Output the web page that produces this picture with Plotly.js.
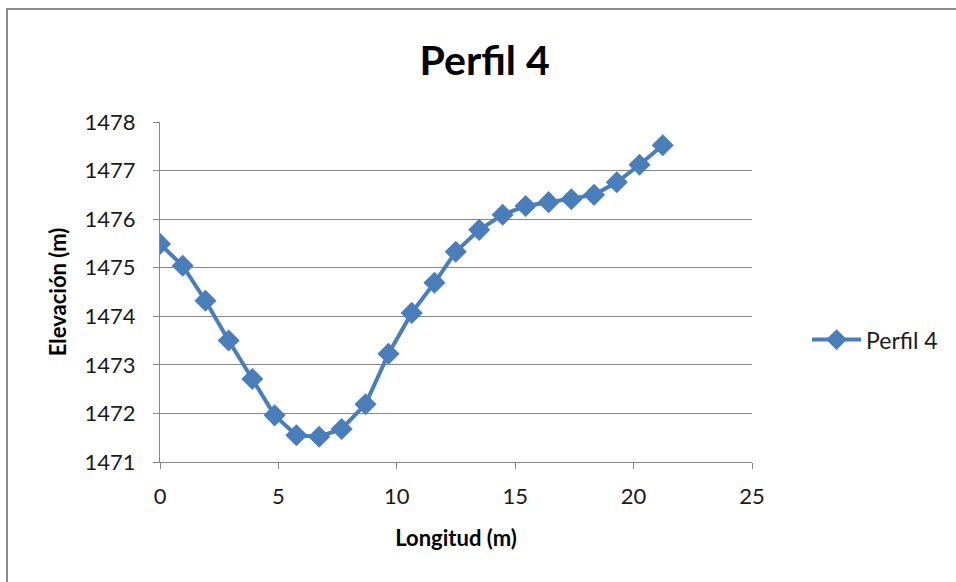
<!DOCTYPE html>
<html>
<head>
<meta charset="utf-8">
<script src="https://cdn.plot.ly/plotly-3.0.1.min.js"></script>
<style>
  html, body { margin: 0; padding: 0; width: 956px; height: 582px; overflow: hidden; background: #ffffff; }
  #frame { position: absolute; left: 6px; top: 8px; width: 1000px; height: 640px; border: 2px solid #8a8a8a; box-sizing: border-box; }
  #chart { position: absolute; left: 0; top: 0; width: 956px; height: 582px; }
</style>
</head>
<body>
<div id="frame"></div>
<div id="chart"></div>
<script>
// Perfil 4: distancia horizontal (m) y elevación (m) de cada punto del levantamiento
const longitud = [0, 0.96, 1.92, 2.90, 3.90, 4.84, 5.76, 6.72, 7.67, 8.68, 9.65, 10.63, 11.59, 12.49,
                  13.48, 14.47, 15.44, 16.41, 17.37, 18.33, 19.29, 20.25, 21.23];
const elevacion = [1475.49, 1475.04, 1474.32, 1473.50, 1472.71, 1471.96, 1471.55, 1471.52, 1471.68, 1472.19, 1473.23, 1474.07, 1474.69, 1475.33,
                   1475.78, 1476.09, 1476.27, 1476.35, 1476.41, 1476.50, 1476.76, 1477.12, 1477.52];
const serieNombre = 'Perfil 4';
const xTicks = [0, 5, 10, 15, 20, 25];
const yTicks = [1471, 1472, 1473, 1474, 1475, 1476, 1477, 1478];

const azul = '#4a7ebb';
const gris = '#868686';
const fuente = 'Lato, "Open Sans", sans-serif';

const trace = {
  x: longitud,
  y: elevacion,
  name: serieNombre,
  type: 'scatter',
  mode: 'lines+markers',
  line: { color: azul, width: 4 },
  marker: { symbol: 'diamond', size: 17, color: azul },
  showlegend: true
};

const layout = {
  width: 956,
  height: 582,
  margin: { l: 160, r: 204, t: 122, b: 120 },
  paper_bgcolor: 'rgba(0,0,0,0)',
  plot_bgcolor: 'rgba(0,0,0,0)',
  font: { family: fuente, color: '#1a1a1a' },
  title: {
    text: '<b>Perfil 4</b>',
    font: { family: fuente, size: 41, color: '#000000' },
    x: 0.507, xanchor: 'center',
    y: 0.895, yanchor: 'middle'
  },
  xaxis: {
    range: [0, 25],
    tickvals: xTicks,
    ticktext: xTicks.map(String),
    showgrid: false,
    zeroline: false,
    showline: true, linecolor: gris, linewidth: 1,
    ticks: 'outside', ticklen: 6, tickcolor: gris,
    ticklabelstandoff: 9,
    tickfont: { family: fuente, size: 22, color: '#1a1a1a' },
    title: { text: '<b>Longitud (m)</b>', font: { family: fuente, size: 22, color: '#000000' }, standoff: 22 }
  },
  yaxis: {
    range: [1471, 1478],
    tickvals: yTicks,
    ticktext: yTicks.map(String),
    showgrid: true, gridcolor: gris, gridwidth: 1,
    zeroline: false,
    showline: true, linecolor: gris, linewidth: 1,
    ticks: 'outside', ticklen: 6, tickcolor: gris,
    ticklabelstandoff: 13,
    tickfont: { family: fuente, size: 22, color: '#1a1a1a' },
    title: { text: '<b>Elevación (m)</b>', font: { family: fuente, size: 22, color: '#000000' }, standoff: 11 }
  },
  legend: {
    x: 1.093, xanchor: 'left',
    y: 0.36, yanchor: 'middle',
    itemwidth: 49,
    font: { family: fuente, size: 23, color: '#1a1a1a' },
    bgcolor: 'rgba(0,0,0,0)'
  },
  showlegend: true
};

Plotly.newPlot('chart', [trace], layout, { displayModeBar: false, staticPlot: true });
</script>
</body>
</html>
